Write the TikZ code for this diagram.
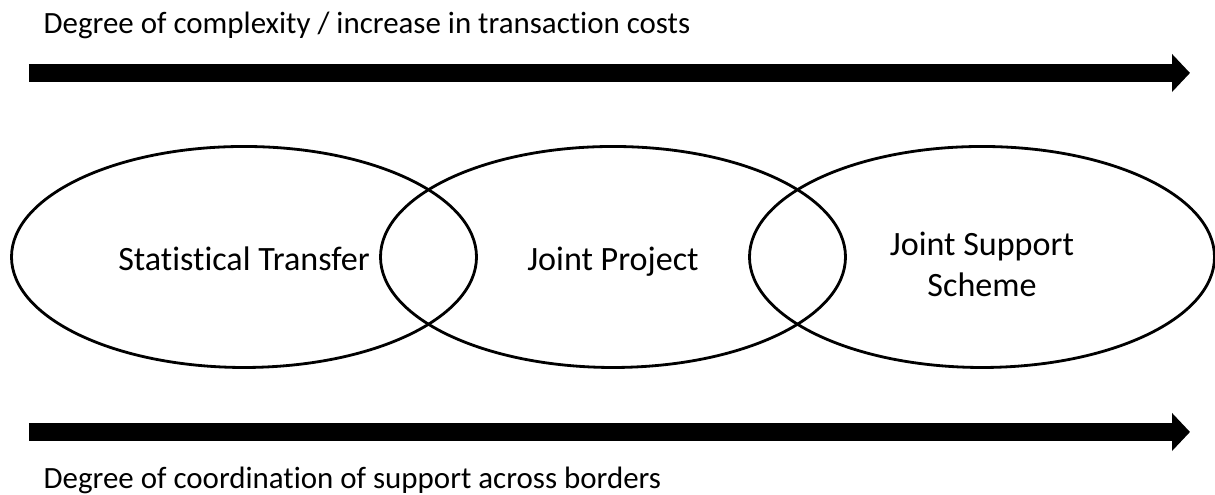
\documentclass[tikz,border=0pt]{standalone}
\usepackage{fontspec}
\setmainfont{Carlito}[Ligatures=NoCommon]
\usetikzlibrary{arrows.meta,shapes.geometric}
\begin{document}
\begin{tikzpicture}[
  bigarrow/.style={line width=5.1pt,-{Triangle[length=1.8mm,width=3.7mm]}},
  blob/.style={draw,ellipse,line width=0.8pt,minimum width=4.65cm,minimum height=2.21cm},
  txt/.style={inner sep=0pt,align=center,font=\fontsize{9.7}{11.6}\selectfont},
  lbl/.style={anchor=base west,inner sep=0pt,font=\fontsize{8.8}{10}\selectfont}]
  \useasboundingbox (0,0) rectangle (12.15,4.95);
  \node[lbl] (top) at (0.43,4.61) {Degree of complexity / increase in transaction costs};
  \coordinate (a1) at (0.29,4.22);
  \coordinate (a2) at (11.90,4.22);
  \draw[bigarrow] (a1) -- (a2);
  \node[blob] (st) at (2.44,2.38) {};
  \node[blob] (jp) at (6.13,2.38) {};
  \node[blob] (jss) at (9.82,2.38) {};
  \node[txt] (stt) at ([yshift=-0.6pt]st.center) {Statistical Transfer};
  \node[txt] (jpt) at ([yshift=-1.3pt]jp.center) {Joint Project};
  \node[txt] (jsst) at ([yshift=-2pt]jss.center) {Joint Support\\Scheme};
  \coordinate (b1) at (0.29,0.63);
  \coordinate (b2) at (11.90,0.63);
  \draw[bigarrow] (b1) -- (b2);
  \node[lbl] (bot) at (0.43,0.06) {Degree of coordination of support across borders};
\end{tikzpicture}
\end{document}
